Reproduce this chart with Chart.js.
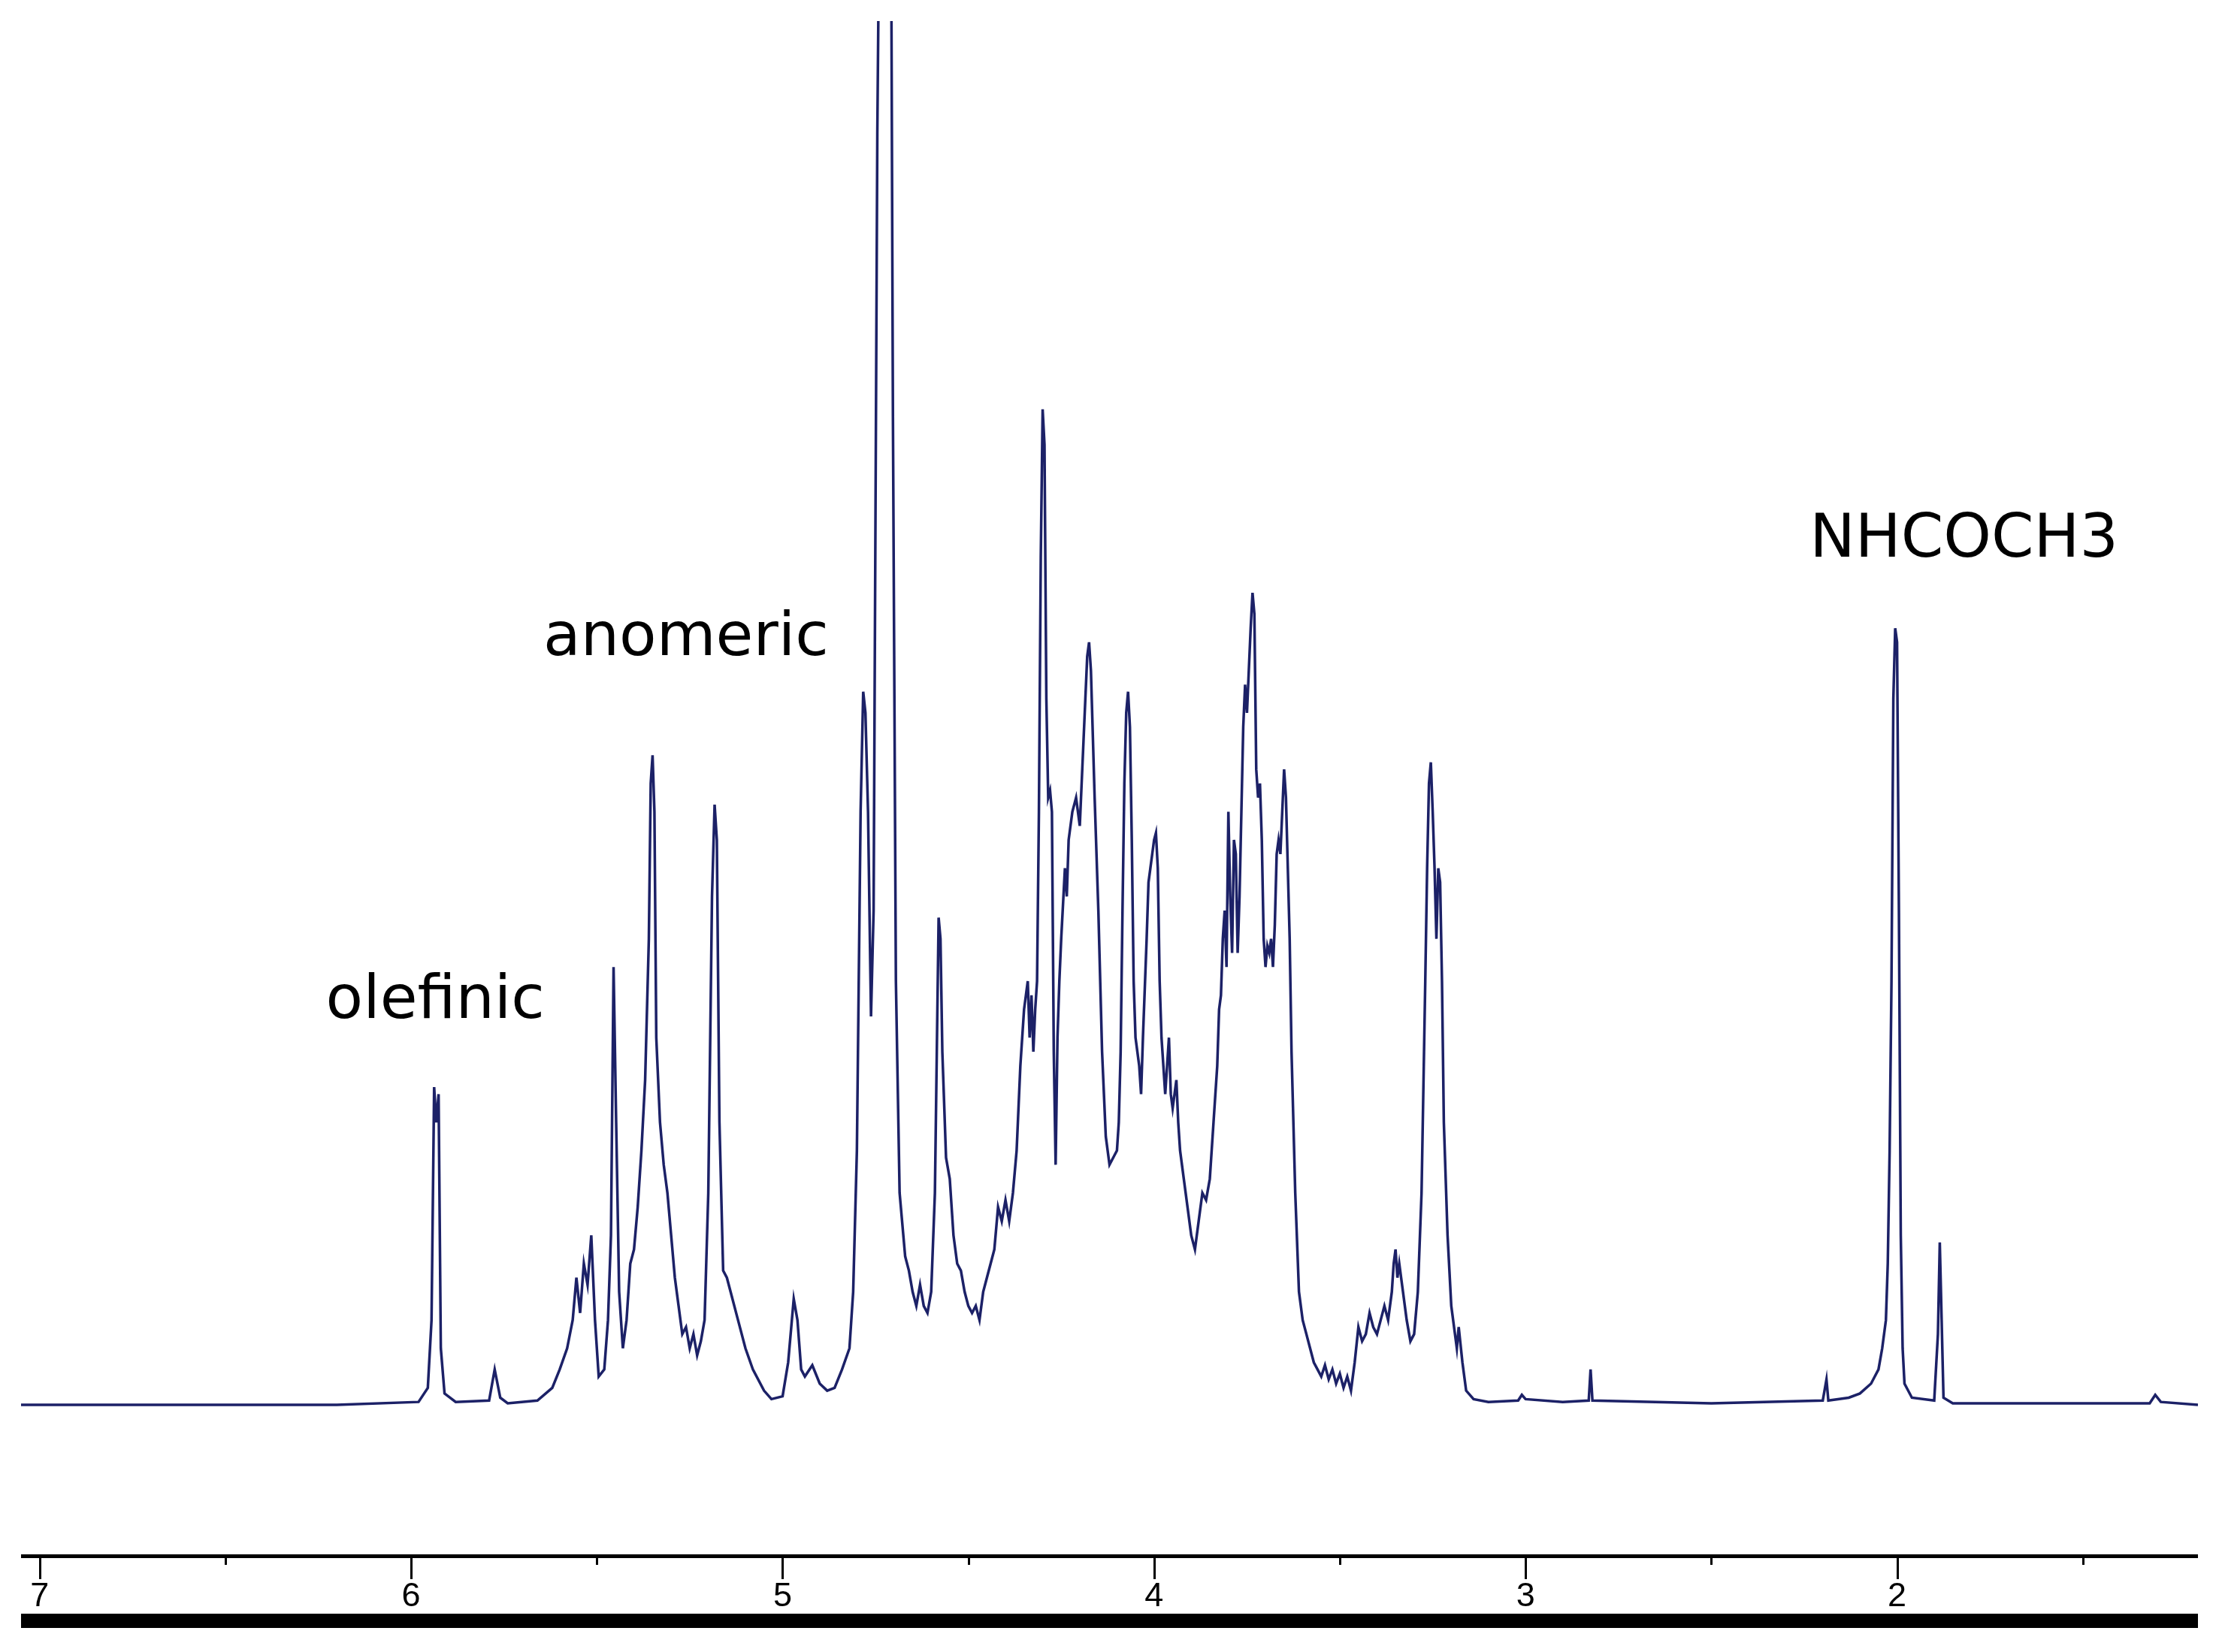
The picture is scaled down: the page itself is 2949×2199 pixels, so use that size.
<!DOCTYPE html>
<html><head><meta charset="utf-8">
<script src="https://cdn.jsdelivr.net/npm/chart.js@4/dist/chart.umd.min.js"></script>
<style>html,body{margin:0;padding:0;background:#fff}#w{width:2949px;height:2199px}</style>
</head><body><div id="w"><canvas id="c"></canvas></div>
<script>
const ppm=[7.05,6.2,5.98,5.955,5.945,5.938,5.932,5.926,5.92,5.91,5.88,5.79,5.775,5.76,5.74,5.66,5.62,5.6,5.58,5.565,5.555,5.545,5.535,5.525,5.515,5.505,5.495,5.48,5.47,5.462,5.455,5.448,5.44,5.43,5.42,5.41,5.4,5.39,5.38,5.37,5.36,5.355,5.35,5.345,5.34,5.33,5.32,5.31,5.3,5.29,5.28,5.27,5.26,5.25,5.24,5.23,5.22,5.21,5.2,5.19,5.183,5.177,5.17,5.16,5.15,5.14,5.12,5.1,5.08,5.05,5.03,5.0,4.985,4.97,4.96,4.95,4.94,4.92,4.9,4.88,4.86,4.84,4.82,4.81,4.8,4.79,4.783,4.777,4.77,4.762,4.755,4.745,4.735,4.72,4.71,4.703,4.695,4.685,4.67,4.66,4.65,4.64,4.63,4.62,4.61,4.6,4.59,4.58,4.575,4.57,4.56,4.55,4.54,4.53,4.52,4.51,4.5,4.49,4.48,4.47,4.46,4.45,4.44,4.43,4.42,4.41,4.4,4.39,4.38,4.37,4.36,4.35,4.34,4.335,4.33,4.325,4.32,4.315,4.31,4.305,4.3,4.295,4.29,4.285,4.28,4.275,4.27,4.265,4.26,4.255,4.25,4.24,4.235,4.23,4.22,4.21,4.2,4.19,4.185,4.18,4.175,4.17,4.16,4.15,4.14,4.13,4.12,4.11,4.1,4.095,4.09,4.085,4.08,4.075,4.07,4.065,4.06,4.055,4.05,4.045,4.04,4.035,4.03,4.02,4.015,4.01,4.005,4.0,3.995,3.99,3.985,3.98,3.975,3.97,3.96,3.955,3.95,3.94,3.935,3.93,3.92,3.91,3.9,3.89,3.88,3.87,3.86,3.85,3.84,3.83,3.825,3.82,3.815,3.81,3.805,3.8,3.795,3.79,3.785,3.78,3.775,3.77,3.765,3.76,3.755,3.75,3.745,3.74,3.735,3.73,3.725,3.72,3.715,3.71,3.705,3.7,3.695,3.69,3.685,3.68,3.675,3.67,3.665,3.66,3.655,3.65,3.645,3.64,3.635,3.63,3.62,3.61,3.6,3.59,3.58,3.57,3.56,3.55,3.54,3.53,3.52,3.51,3.5,3.49,3.48,3.47,3.46,3.45,3.44,3.43,3.42,3.41,3.4,3.39,3.38,3.37,3.36,3.355,3.35,3.345,3.34,3.33,3.32,3.31,3.3,3.29,3.28,3.27,3.265,3.26,3.255,3.25,3.245,3.24,3.235,3.23,3.225,3.22,3.21,3.2,3.19,3.185,3.18,3.17,3.16,3.14,3.1,3.02,3.01,3.0,2.9,2.83,2.825,2.82,2.5,2.2,2.19,2.185,2.13,2.1,2.07,2.05,2.04,2.03,2.025,2.02,2.015,2.01,2.005,2.0,1.995,1.99,1.985,1.98,1.96,1.9,1.89,1.885,1.88,1.875,1.85,1.32,1.305,1.29,1.19];
const intensity=[0,0,2,12,60,225,200,220,40,8,2,3,25,5,1,3,12,25,40,60,90,65,100,85,120,60,20,25,60,120,310,200,80,40,60,100,110,140,180,230,330,440,460,420,260,200,170,150,120,90,70,50,55,40,50,35,45,60,150,360,425,400,200,95,90,80,60,40,25,10,4,6,30,75,60,25,20,28,15,10,12,25,40,80,180,420,505,490,420,275,350,900,1200,1200,1200,700,300,150,105,95,80,70,85,70,65,80,150,345,330,250,175,160,120,100,95,80,70,65,70,60,80,90,100,110,140,130,145,130,150,180,240,280,300,260,290,250,280,300,420,600,705,680,500,430,435,420,250,170,260,300,330,380,360,400,420,430,410,470,500,530,540,520,430,350,250,190,170,175,180,200,250,350,440,490,505,480,400,300,260,250,240,220,260,330,370,380,390,400,405,380,300,260,240,220,260,220,210,230,200,180,160,140,120,110,130,150,145,160,200,240,280,290,330,350,310,420,360,320,400,390,320,360,420,480,510,490,520,550,575,560,450,430,440,400,330,310,325,320,330,310,340,390,400,390,420,450,430,380,330,250,150,80,60,50,40,30,25,20,28,18,25,15,22,12,20,10,30,55,45,50,65,55,50,60,70,60,80,100,110,90,100,80,60,45,50,80,150,300,380,440,455,420,380,330,380,370,300,200,120,70,50,40,55,30,10,4,2,3,7,4,2,3,25,3,1,3,18,3,5,8,15,25,40,60,100,180,300,500,550,540,350,120,40,15,5,3,50,115,60,5,1,1,7,2,0];
const tickValues=[7,6.5,6,5.5,5,4.5,4,3.5,3,2.5,2,1.5];
const tickLabels=["7","6","5","4","3","2"];
const annotations=[{text:"olefinic",x:5.935,y:285},{text:"anomeric",x:5.26,y:542},{text:"NHCOCH3",x:1.82,y:612}];

const overlay={id:'overlay',afterDraw(ch){
  const c=ch.ctx,xs=ch.scales.x,ys=ch.scales.y,a=ch.chartArea;
  c.save();
  c.fillStyle='#000';
  c.fillRect(a.left,a.bottom-2,a.right-a.left,5);
  tickValues.forEach(v=>{const px=Math.round(xs.getPixelForValue(v));const maj=Number.isInteger(v);c.fillRect(px-1,a.bottom,3,maj?31:12);});
  c.fillRect(a.left,2148,a.right-a.left,19);
  c.font='81px "DejaVu Sans"';c.textAlign='center';c.textBaseline='middle';c.fillStyle='#000';
  annotations.forEach(t=>c.fillText(t.text,xs.getPixelForValue(t.x),ys.getPixelForValue(t.y)));
  c.restore();
}};
new Chart(document.getElementById('c'),{type:'line',
 data:{datasets:[{data:ppm.map((p,i)=>({x:p,y:intensity[i]})),borderColor:'#1c2167',borderWidth:3.5,pointRadius:0,tension:0,fill:false}]},
 options:{responsive:true,maintainAspectRatio:false,devicePixelRatio:1,animation:false,
  layout:{padding:{left:28,right:24,top:28,bottom:46}},
  plugins:{legend:{display:false},tooltip:{enabled:false}},
  scales:{
   x:{type:'linear',reverse:true,min:1.19,max:7.05,border:{display:false},
      grid:{display:true,drawOnChartArea:false,drawTicks:true,tickLength:28,tickColor:'rgba(0,0,0,0)'},
      afterBuildTicks(s){s.ticks=tickValues.map(v=>({value:v}));},
      ticks:{autoSkip:false,maxRotation:0,padding:0,color:'#000',font:{family:'"Liberation Sans"',size:45},
        callback:v=>Number.isInteger(v)?tickLabels[7-v]:''}},
   y:{display:false,min:-107,max:980}
  }}, plugins:[overlay]});
</script></body></html>
